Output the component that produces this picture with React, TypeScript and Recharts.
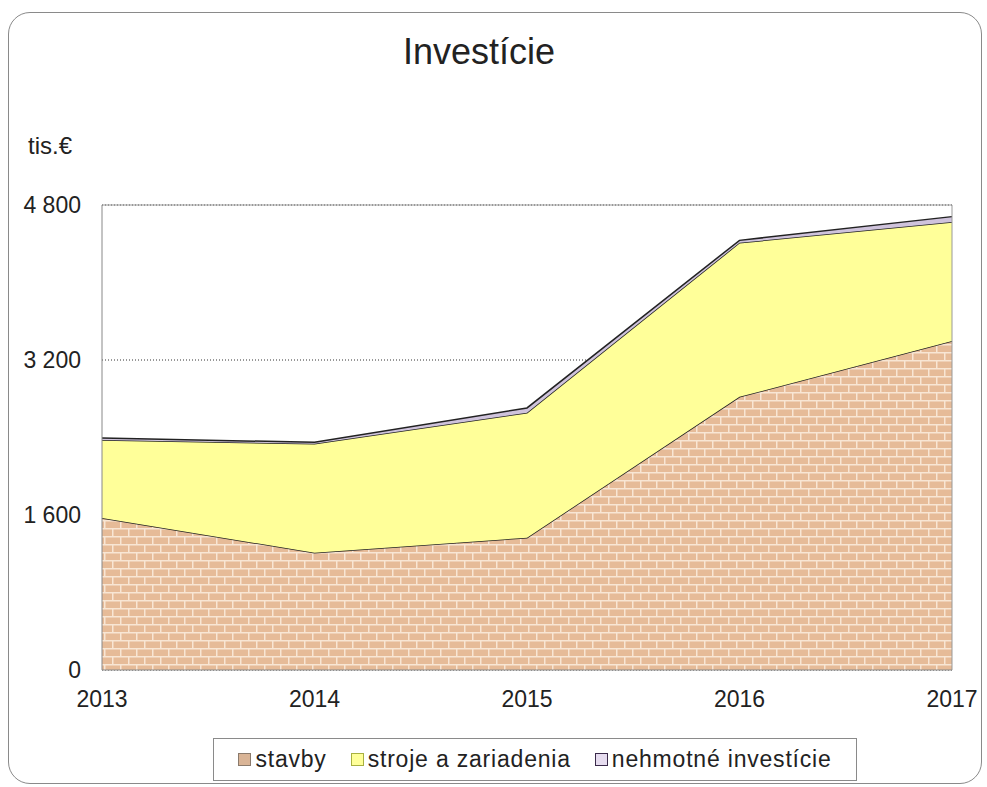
import { AreaChart, Area, XAxis, YAxis, CartesianGrid, ReferenceLine } from 'recharts';

const years = ['2013', '2014', '2015', '2016', '2017'];
const stavby = [1570, 1210, 1365, 2820, 3395];
const stroje = [805, 1125, 1290, 1590, 1230];
const nehmotne = [20, 15, 50, 25, 55];
const yTicks = [0, 1600, 3200, 4800];

const data = years.map((y, i) => ({
    year: y,
    stavby: stavby[i],
    stroje: stroje[i],
    nehmotne: nehmotne[i],
}));

const FONT = '"Liberation Sans", Arial, sans-serif';

const fmt = (v: number) => v.toLocaleString('en-US').replace(/,/g, ' ');

const legendItems = [
    { label: 'stavby', fill: '#d9b496', border: '#8a7a6c' },
    { label: 'stroje a zariadenia', fill: '#ffff99', border: '#a8b040' },
    { label: 'nehmotné investície', fill: '#e6dcef', border: '#3a2a4a' },
];

export default function App() {
    return (
        <div style={{ position: 'fixed', left: 0, top: 0, width: 987, height: 787, background: '#fff', fontFamily: FONT }}>
            <div style={{
                position: 'absolute', left: 8, top: 12, width: 974, height: 772,
                border: '1px solid #8a8a8a', borderRadius: 22, boxSizing: 'border-box',
            }} />
            <div style={{ position: 'absolute', left: 0, width: 958, top: 31, textAlign: 'center', fontSize: 36, color: '#222' }}>
                Investície
            </div>
            <div style={{ position: 'absolute', left: 28, top: 132, fontSize: 24, color: '#222' }}>tis.€</div>

            <div style={{ position: 'absolute', left: 0, top: 0 }}>
                <AreaChart width={987} height={787} data={data}
                    margin={{ top: 205, right: 35, bottom: 82, left: 32 }}>
                    <defs>
                        <pattern id="bricks" width="16" height="16" patternUnits="userSpaceOnUse">
                            <rect width="16" height="16" fill="#e6bb98" />
                            <rect x="0" y="0" width="16" height="1.5" fill="#f8e6d4" />
                            <rect x="0" y="8" width="16" height="1.5" fill="#f8e6d4" />
                            <rect x="0" y="0" width="1.5" height="8" fill="#f8e6d4" />
                            <rect x="8" y="8" width="1.5" height="8" fill="#f8e6d4" />
                        </pattern>
                    </defs>
                    <CartesianGrid vertical={false} stroke="#333" strokeDasharray="1 2" />
                    <XAxis dataKey="year" tickLine={false} axisLine={{ stroke: '#888' }}
                        tick={{ fill: '#222', fontSize: 23, fontFamily: FONT }} tickMargin={15} height={35} />
                    <YAxis domain={[0, 4800]} ticks={yTicks} tickFormatter={fmt} width={70}
                        tickLine={false} axisLine={{ stroke: '#888' }}
                        tick={{ fill: '#222', fontSize: 23, fontFamily: FONT }} tickMargin={15} />
                    <Area type="linear" dataKey="stavby" stackId="a" fill="url(#bricks)" fillOpacity={1}
                        stroke="#222" strokeWidth={1.5} isAnimationActive={false} />
                    <Area type="linear" dataKey="stroje" stackId="a" fill="#ffff99" fillOpacity={1}
                        stroke="#222" strokeWidth={1.5} isAnimationActive={false} />
                    <Area type="linear" dataKey="nehmotne" stackId="a" fill="#cfc3dc" fillOpacity={1}
                        stroke="#222" strokeWidth={1.5} isAnimationActive={false} />
                    <ReferenceLine y={4800} stroke="#999" />
                    <ReferenceLine x="2017" stroke="#999" />
                </AreaChart>
            </div>

            <div style={{
                position: 'absolute', left: 213, top: 738, width: 644, height: 43, boxSizing: 'border-box',
                border: '1px solid #8a8a8a', display: 'flex', alignItems: 'center', justifyContent: 'center',
                gap: 24, fontSize: 23, color: '#222', letterSpacing: 0.8,
            }}>
                {legendItems.map(it => (
                    <div key={it.label} style={{ display: 'flex', alignItems: 'center', gap: 4 }}>
                        <span style={{ display: 'inline-block', width: 11, height: 11, background: it.fill, border: `1.5px solid ${it.border}` }} />
                        <span>{it.label}</span>
                    </div>
                ))}
            </div>
        </div>
    );
}
